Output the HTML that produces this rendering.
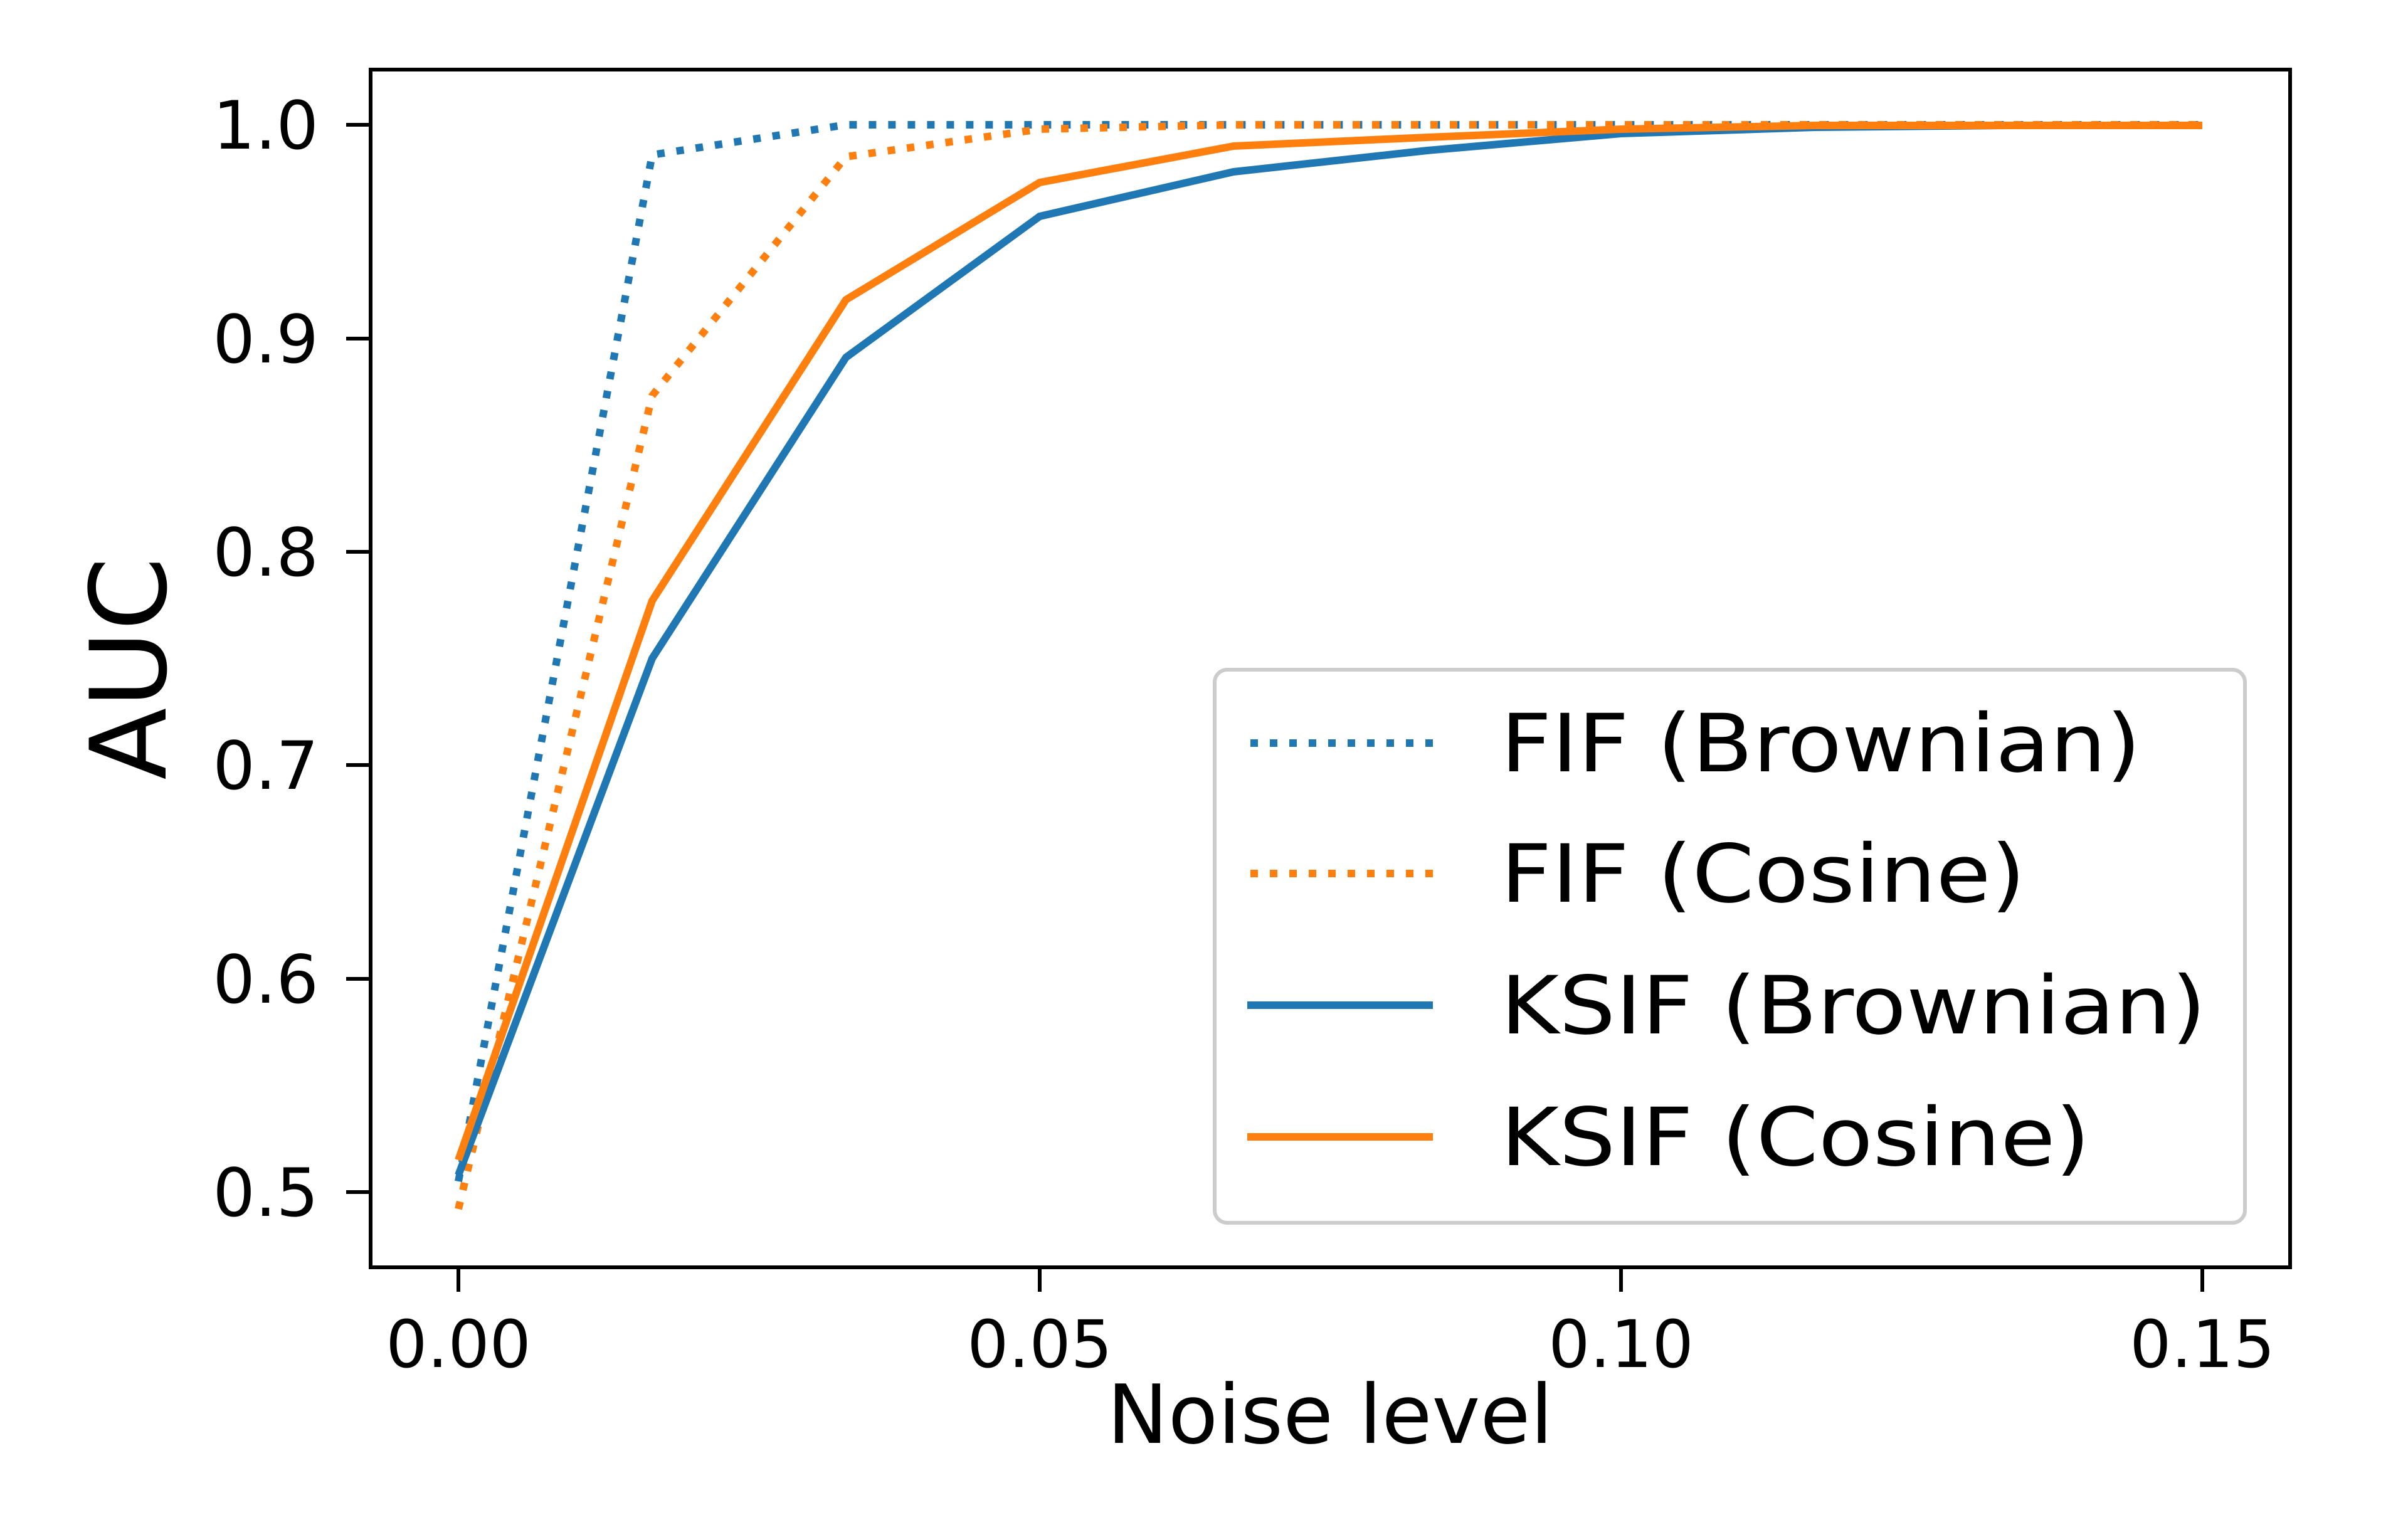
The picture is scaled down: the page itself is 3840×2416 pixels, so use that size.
<!DOCTYPE html>
<html><head><meta charset="utf-8"><style>
html,body{margin:0;padding:0;background:#fff;}
svg{display:block;}
text{font-family:"DejaVu Sans","Liberation Sans",sans-serif;fill:#000;}
</style></head><body>
<svg width="3840" height="2416" viewBox="0 0 3840 2416" xmlns="http://www.w3.org/2000/svg">
<rect width="3840" height="2416" fill="#fff"/>
<defs><clipPath id="c"><rect x="591" y="111" width="3061" height="1910"/></clipPath></defs>
<g clip-path="url(#c)" fill="none" stroke-width="12" stroke-linejoin="round">
<polyline stroke="#1f77b4" stroke-dasharray="12,19" points="731,1884 1040,247 1349,199 1658,199 1967,199 2276,199 2585,199 2894,199 3203,199 3512,199"/>
<polyline stroke="#ff7f0e" stroke-dasharray="12,19" points="731,1928 1040,631 1349,250 1658,206 1967,199 2276,199 2585,199 2894,199 3203,199 3512,199"/>
<polyline stroke="#1f77b4" points="731,1874 1040,1050 1349,570 1658,345 1967,274 2276,240 2585,213 2894,203 3203,200 3512,200"/>
<polyline stroke="#ff7f0e" points="731,1850 1040,958 1349,478 1658,291 1967,233 2276,219 2585,206 2894,200 3203,200 3512,200"/>
</g>
<rect x="591" y="111" width="3061" height="1910" fill="none" stroke="#000" stroke-width="6"/>
<g stroke="#000" stroke-width="6">
<line x1="552" y1="199" x2="591" y2="199"/><line x1="552" y1="540" x2="591" y2="540"/>
<line x1="552" y1="880" x2="591" y2="880"/><line x1="552" y1="1220" x2="591" y2="1220"/>
<line x1="552" y1="1561" x2="591" y2="1561"/><line x1="552" y1="1901" x2="591" y2="1901"/>
<line x1="731" y1="2021" x2="731" y2="2060"/><line x1="1658" y1="2021" x2="1658" y2="2060"/>
<line x1="2585" y1="2021" x2="2585" y2="2060"/><line x1="3512" y1="2021" x2="3512" y2="2060"/>
</g>
<g font-size="106" text-anchor="end">
<text x="508" y="237">1.0</text><text x="508" y="578">0.9</text><text x="508" y="918">0.8</text>
<text x="508" y="1258">0.7</text><text x="508" y="1599">0.6</text><text x="508" y="1939">0.5</text>
</g>
<g font-size="104" text-anchor="middle">
<text x="731" y="2180">0.00</text><text x="1658" y="2180">0.05</text>
<text x="2585" y="2180">0.10</text><text x="3512" y="2180">0.15</text>
</g>
<text x="2121" y="2301" font-size="130" text-anchor="middle">Noise level</text>
<text transform="translate(264,1066) rotate(-90)" font-size="168" text-anchor="middle">AUC</text>
<rect x="1937" y="1068" width="1643" height="882" rx="20" fill="#fff" fill-opacity="0.8" stroke="#ccc" stroke-width="6"/>
<g fill="none" stroke-width="12">
<line x1="1994" y1="1185" x2="2285" y2="1185" stroke="#1f77b4" stroke-dasharray="12,19"/>
<line x1="1994" y1="1393" x2="2285" y2="1393" stroke="#ff7f0e" stroke-dasharray="12,19"/>
<line x1="1989" y1="1603" x2="2285" y2="1603" stroke="#1f77b4"/>
<line x1="1989" y1="1813" x2="2285" y2="1813" stroke="#ff7f0e"/>
</g>
<g font-size="128">
<text x="2393" y="1230" textLength="1021" lengthAdjust="spacingAndGlyphs">FIF (Brownian)</text>
<text x="2393" y="1438" textLength="837" lengthAdjust="spacingAndGlyphs">FIF (Cosine)</text>
<text x="2393" y="1648" textLength="1125" lengthAdjust="spacingAndGlyphs">KSIF (Brownian)</text>
<text x="2393" y="1858" textLength="940" lengthAdjust="spacingAndGlyphs">KSIF (Cosine)</text>
</g>
</svg>
</body></html>
